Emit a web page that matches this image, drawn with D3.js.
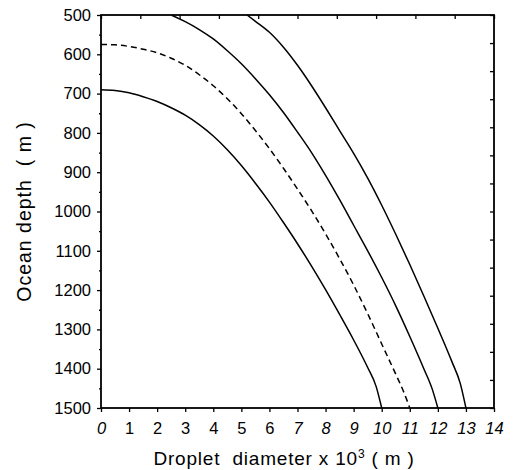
<!DOCTYPE html>
<html>
<head>
<meta charset="utf-8">
<script src="https://cdn.jsdelivr.net/npm/d3@7"></script>
<style>
  body { margin: 0; background: #fff; }
  svg text { font-family: "Liberation Sans", Arial, sans-serif; fill: #000; }
</style>
</head>
<body>
<div class="chart"></div>
<script>
// diameter (x 10^3 m) vs ocean depth (m)
const diameterTicks = [0, 1, 2, 3, 4, 5, 6, 7, 8, 9, 10, 11, 12, 13, 14];
const depthTicks = [500, 600, 700, 800, 900, 1000, 1100, 1200, 1300, 1400, 1500];
const depthMinor = [550, 650, 750, 850, 950, 1050, 1150, 1250, 1350, 1450];

const curve10 = [[0, 690], [0.5, 692], [1, 698], [1.5, 708], [2, 720], [2.5, 736], [3, 755],
  [3.5, 779], [4, 808], [4.5, 843], [5, 883], [5.5, 928], [6, 976], [6.5, 1028], [7, 1082],
  [7.5, 1139], [8, 1199], [8.5, 1262], [9, 1327], [9.5, 1397], [9.8, 1445], [10, 1500]];
const curve11 = [[0, 575], [0.5, 576], [1, 580], [1.5, 587], [2, 596], [2.5, 610], [3, 628],
  [3.5, 652], [4, 680], [4.5, 713], [5, 751], [5.5, 794], [6, 840], [6.5, 890], [7, 943],
  [7.5, 998], [8, 1057], [8.5, 1120], [9, 1187], [9.5, 1260], [10, 1337], [10.5, 1414],
  [10.8, 1462], [11, 1500]];
const curve12 = [[2.5, 500], [3, 517], [3.5, 537], [4, 561], [4.5, 591], [5, 624], [5.5, 662],
  [6, 703], [6.5, 748], [7, 798], [7.5, 850], [8, 908], [8.5, 970], [9, 1035], [9.5, 1100],
  [10, 1168], [10.5, 1240], [11, 1318], [11.5, 1400], [11.8, 1452], [12, 1500]];
const curve13 = [[5.2, 500], [5.5, 516], [6, 544], [6.5, 582], [7, 628], [7.5, 680], [8, 736],
  [8.5, 794], [9, 852], [9.5, 915], [10, 984], [10.5, 1058], [11, 1135], [11.5, 1215],
  [12, 1297], [12.5, 1382], [12.8, 1438], [13, 1500]];

const width = 514;
const height = 470;
const margin = { top: 15, right: 20, bottom: 62, left: 101 };
const x0 = margin.left, x1 = width - margin.right;
const y0 = margin.top, y1 = height - margin.bottom;

const svg = d3.select(".chart").append("svg")
  .attr("width", width)
  .attr("height", height);

const x = d3.scaleLinear().domain([0, 14]).range([x0, x1]);
const y = d3.scaleLinear().domain([500, 1500]).range([y0, y1]);

// clip so curves stop at the frame
svg.append("clipPath").attr("id", "plot")
  .append("rect")
  .attr("x", x0).attr("y", y0)
  .attr("width", x1 - x0).attr("height", y1 - y0);

const line = d3.line()
  .x(d => x(d[0]))
  .y(d => y(d[1]))
  .curve(d3.curveMonotoneX);

const series = [
  { data: curve10, dash: null },
  { data: curve11, dash: "6,4" },
  { data: curve12, dash: null },
  { data: curve13, dash: null }
];

svg.append("g")
  .attr("clip-path", "url(#plot)")
  .selectAll("path")
  .data(series)
  .enter()
  .append("path")
  .attr("d", d => line(d.data))
  .attr("fill", "none")
  .attr("stroke", "#000")
  .attr("stroke-width", 1.5)
  .attr("stroke-dasharray", d => d.dash);

// left axis, major + minor ticks outward
const left = svg.append("g")
  .attr("transform", `translate(${x0},0)`)
  .call(d3.axisLeft(y).tickValues(depthTicks).tickSize(4).tickPadding(6).tickFormat(d3.format("d")));
left.selectAll("text").style("font-size", "16.5px");

svg.append("g")
  .attr("transform", `translate(${x0},0)`)
  .call(d3.axisLeft(y).tickValues(depthMinor).tickSize(2).tickFormat(""));

// bottom axis
const bottom = svg.append("g")
  .attr("transform", `translate(0,${y1})`)
  .call(d3.axisBottom(x).tickValues(diameterTicks).tickSize(4).tickPadding(10));
bottom.selectAll("text")
  .style("font-size", "16.5px")
  .style("font-style", d => (d === 0 || d >= 7) ? "italic" : "normal");

// top and right carry inward ticks on their own spacing (as in the scan)
const topTicks = d3.scaleLinear().domain([0, 10]).range([x0, x1]);
svg.append("g")
  .attr("transform", `translate(0,${y0})`)
  .call(d3.axisTop(topTicks).ticks(10).tickSize(-4).tickFormat(""));

const rightTicks = d3.scaleLinear().domain([0, 14]).range([y0, y1]);
svg.append("g")
  .attr("transform", `translate(${x1},0)`)
  .call(d3.axisRight(rightTicks).ticks(14).tickSize(-4).tickFormat(""));

svg.selectAll(".domain").remove();
svg.selectAll(".tick line").attr("stroke", "#000").attr("stroke-width", 1.3);

// frame
svg.append("rect")
  .attr("x", x0).attr("y", y0)
  .attr("width", x1 - x0).attr("height", y1 - y0)
  .attr("fill", "none")
  .attr("stroke", "#000")
  .attr("stroke-width", 1.8);

// axis titles
const xt = svg.append("text")
  .attr("x", 284)
  .attr("y", 465)
  .attr("text-anchor", "middle")
  .style("font-size", "19px")
  .style("letter-spacing", "0.8px")
  .attr("xml:space", "preserve");
xt.append("tspan").text("Droplet  diameter x 10");
xt.append("tspan").attr("dy", -7).style("font-size", "12px").text("3");
xt.append("tspan").attr("dy", 7).text(" ( m )");

svg.append("text")
  .attr("transform", `translate(31,${(y0 + y1) / 2}) rotate(-90)`)
  .attr("text-anchor", "middle")
  .style("font-size", "19.5px")
  .style("letter-spacing", "1px")
  .attr("xml:space", "preserve")
  .text("Ocean depth  ( m )");
</script>
</body>
</html>
